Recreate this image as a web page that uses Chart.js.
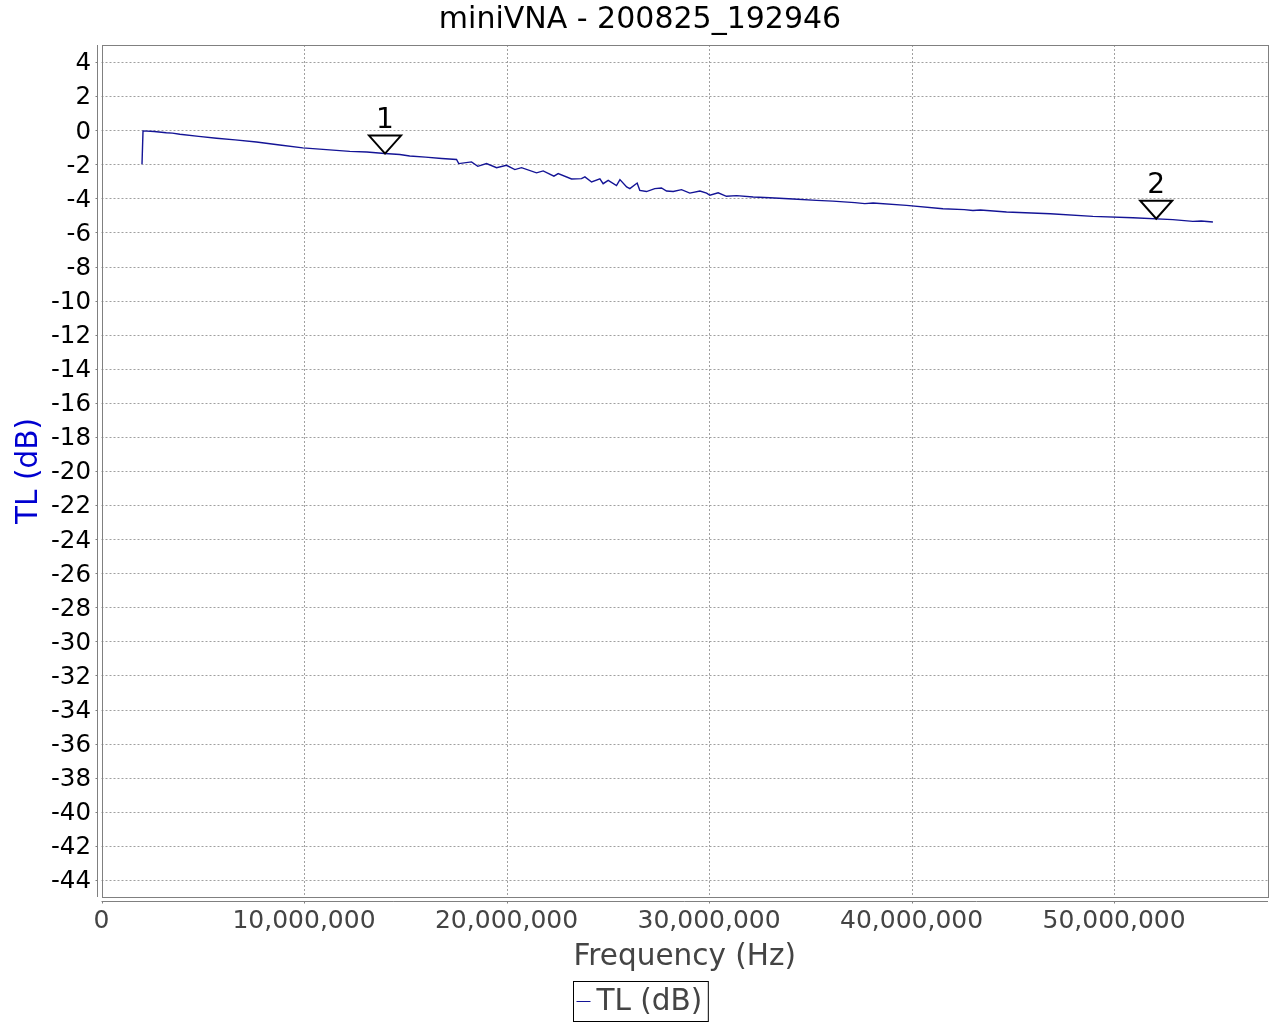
<!DOCTYPE html>
<html>
<head>
<meta charset="utf-8">
<title>miniVNA - 200825_192946</title>
<script src="https://cdn.jsdelivr.net/npm/chart.js@4.4.0/dist/chart.umd.min.js"></script>
<style>
    html, body { margin: 0; padding: 0; background: #fff; }
    canvas { display: block; }
</style>
</head>
<body>
<canvas id="graficoTL" width="1280" height="1024"></canvas>
<script>
// Datos (frecuencia en Hz, TL en dB)
const frecuencias = [
    2.00e6, 2.05e6, 2.6e6, 3.2e6, 3.5e6, 3.87e6, 4.8e6, 5.68e6, 6.6e6, 7.65e6,
    8.8e6, 9.94e6, 11.1e6, 12.26e6, 13.1e6, 13.99e6, 14.73e6, 15.22e6, 16.0e6, 16.8e6,
    17.53e6, 17.64e6, 18.27e6, 18.58e6, 19.01e6, 19.51e6, 20.0e6, 20.41e6, 20.74e6, 21.48e6,
    21.81e6, 22.34e6, 22.55e6, 23.21e6, 23.70e6, 23.87e6, 24.20e6, 24.61e6, 24.77e6, 25.02e6,
    25.43e6, 25.60e6, 25.93e6, 26.09e6, 26.45e6, 26.58e6, 26.91e6, 27.32e6, 27.65e6, 27.90e6,
    28.23e6, 28.64e6, 29.05e6, 29.55e6, 29.88e6, 30.04e6, 30.45e6, 30.86e6, 31.36e6, 32.18e6,
    33.0e6, 34.15e6, 35.31e6, 36.11e6, 37.2e6, 37.69e6, 38.1e6, 39.75e6, 41.55e6, 42.6e6,
    43.03e6, 43.4e6, 44.69e6, 46.85e6, 48.95e6, 50.93e6, 52.90e6, 53.89e6, 54.3e6, 54.88e6
];
const tlValores = [
    -2.00, -0.04, -0.08, -0.15, -0.17, -0.24, -0.36, -0.47, -0.57, -0.69,
    -0.87, -1.04, -1.14, -1.24, -1.28, -1.37, -1.43, -1.51, -1.58, -1.66,
    -1.72, -1.96, -1.86, -2.12, -1.96, -2.20, -2.06, -2.31, -2.20, -2.50,
    -2.39, -2.70, -2.55, -2.86, -2.84, -2.74, -3.04, -2.86, -3.14, -2.94,
    -3.25, -2.90, -3.33, -3.43, -3.10, -3.53, -3.60, -3.43, -3.39, -3.57,
    -3.60, -3.49, -3.69, -3.57, -3.69, -3.82, -3.67, -3.88, -3.84, -3.92,
    -3.96, -4.04, -4.12, -4.16, -4.25, -4.31, -4.27, -4.41, -4.61, -4.66,
    -4.71, -4.68, -4.80, -4.90, -5.06, -5.14, -5.25, -5.35, -5.33, -5.39
];

// Marcadores 1 y 2
const marcadorEtiquetas = ['1', '2'];
const marcadorFrecuencias = [14.0e6, 52.08e6];
const marcadorValores = [-1.37, -5.19];

// Ticks de los ejes
const ticksX = [0, 10e6, 20e6, 30e6, 40e6, 50e6];
const ticksY = [4, 2, 0, -2, -4, -6, -8, -10, -12, -14, -16, -18, -20, -22, -24, -26,
    -28, -30, -32, -34, -36, -38, -40, -42, -44];

const FUENTE = 'DejaVu Sans';
const GRIS = '#808080';
const COLOR_REJILLA = '#a0a0a0';
const COLOR_LINEA = 'rgb(20, 20, 150)';

// Rejilla punteada, marco, ejes separados, marcadores y leyenda al estilo JFreeChart
const pluginMiniVNA = {
    id: 'miniVNA',
    beforeDatasetsDraw(chart) {
        const ctx = chart.ctx;
        const area = chart.chartArea;
        const x = chart.scales.x;
        const y = chart.scales.y;
        ctx.save();
        ctx.strokeStyle = COLOR_REJILLA;
        ctx.lineWidth = 1;
        ctx.setLineDash([2, 2]);
        ctx.beginPath();
        ticksX.forEach(v => {
            const p = Math.round(x.getPixelForValue(v)) + 0.5;
            ctx.moveTo(p, area.top);
            ctx.lineTo(p, area.bottom);
        });
        ticksY.forEach(v => {
            const p = Math.round(y.getPixelForValue(v)) + 0.5;
            ctx.moveTo(area.left, p);
            ctx.lineTo(area.right, p);
        });
        ctx.stroke();
        ctx.restore();
    },
    afterDatasetsDraw(chart) {
        const ctx = chart.ctx;
        const x = chart.scales.x;
        const y = chart.scales.y;
        ctx.save();
        marcadorEtiquetas.forEach((etiqueta, i) => {
            const px = x.getPixelForValue(marcadorFrecuencias[i]);
            const py = y.getPixelForValue(marcadorValores[i]);
            ctx.beginPath();
            ctx.moveTo(px - 16, py - 18);
            ctx.lineTo(px + 16, py - 18);
            ctx.lineTo(px, py);
            ctx.closePath();
            ctx.fillStyle = '#fff';
            ctx.fill();
            ctx.lineWidth = 2;
            ctx.strokeStyle = '#000';
            ctx.stroke();
            ctx.fillStyle = '#000';
            ctx.font = '28px "' + FUENTE + '"';
            ctx.textAlign = 'center';
            ctx.textBaseline = 'alphabetic';
            ctx.fillText(etiqueta, px, py - 26);
        });
        ctx.restore();
    },
    afterDraw(chart) {
        const ctx = chart.ctx;
        const area = chart.chartArea;
        const x = chart.scales.x;
        const y = chart.scales.y;
        ctx.save();
        ctx.strokeStyle = GRIS;
        ctx.lineWidth = 1;
        // marco del area
        ctx.strokeRect(Math.round(area.left) + 0.5, Math.round(area.top) + 0.5,
            Math.round(area.right - area.left) - 1, Math.round(area.bottom - area.top));
        // eje X desplazado
        const ejeX = Math.round(area.bottom) + 4.5;
        ctx.beginPath();
        ctx.moveTo(area.left, ejeX);
        ctx.lineTo(area.right, ejeX);
        ticksX.forEach(v => {
            const p = Math.round(x.getPixelForValue(v)) + 0.5;
            ctx.moveTo(p, ejeX);
            ctx.lineTo(p, ejeX + 2);
        });
        // eje Y desplazado
        const ejeY = Math.round(area.left) - 4.5;
        ctx.moveTo(ejeY, area.top);
        ctx.lineTo(ejeY, area.bottom);
        ticksY.forEach(v => {
            const p = Math.round(y.getPixelForValue(v)) + 0.5;
            ctx.moveTo(ejeY, p);
            ctx.lineTo(ejeY - 2, p);
        });
        ctx.stroke();

        // leyenda
        const texto = chart.data.datasets[0].label;
        ctx.font = '29.5px "' + FUENTE + '"';
        const anchoTexto = ctx.measureText(texto).width;
        const anchoCaja = 4 + 14 + 6 + anchoTexto + 5;
        const izq = Math.round(chart.width / 2 - anchoCaja / 2) + 0.5;
        const arriba = 981.5;
        ctx.strokeStyle = '#000';
        ctx.strokeRect(izq, arriba, anchoCaja, 40);
        ctx.beginPath();
        ctx.strokeStyle = COLOR_LINEA;
        ctx.moveTo(izq + 3, arriba + 20);
        ctx.lineTo(izq + 17, arriba + 20);
        ctx.stroke();
        ctx.fillStyle = '#444';
        ctx.textAlign = 'left';
        ctx.textBaseline = 'middle';
        ctx.fillText(texto, izq + 23, arriba + 21);
        ctx.restore();
    }
};

const datos = {
    datasets: [{
        label: 'TL (dB)',
        data: frecuencias.map((f, i) => ({ x: f, y: tlValores[i] })),
        borderColor: COLOR_LINEA,
        backgroundColor: COLOR_LINEA,
        borderWidth: 1.4,
        pointRadius: 0,
        tension: 0,
        fill: false
    }]
};

const configuracion = {
    type: 'line',
    data: datos,
    options: {
        responsive: false,
        animation: false,
        devicePixelRatio: 1,
        layout: { padding: { left: 0, right: 0, top: 0, bottom: 49 } },
        plugins: {
            legend: { display: false },
            tooltip: { enabled: false },
            title: {
                display: true,
                text: 'miniVNA - 200825_192946',
                color: '#000',
                font: { family: FUENTE, size: 30, weight: 'normal' },
                padding: { top: 2, bottom: 7 }
            }
        },
        scales: {
            x: {
                type: 'linear',
                min: 0,
                max: 57.6e6,
                afterBuildTicks: s => { s.ticks = ticksX.map(v => ({ value: v })); },
                afterFit: s => { s.height = 78; },
                border: { display: false },
                grid: { display: false, drawTicks: false },
                ticks: {
                    color: '#444',
                    font: { family: FUENTE, size: 25 },
                    padding: 9,
                    maxRotation: 0,
                    autoSkip: false,
                    callback: v => v.toLocaleString('en-US')
                },
                title: {
                    display: true,
                    text: 'Frequency (Hz)',
                    color: '#444',
                    font: { family: FUENTE, size: 29.5 },
                    padding: { top: 0, bottom: 0 }
                }
            },
            y: {
                min: -45,
                max: 5,
                afterBuildTicks: s => { s.ticks = ticksY.map(v => ({ value: v })); },
                afterFit: s => { s.width = 101.5; },
                border: { display: false },
                grid: { display: false, drawTicks: false },
                ticks: {
                    color: '#000',
                    font: { family: FUENTE, size: 24.5 },
                    padding: 10.5,
                    labelOffset: 2,
                    autoSkip: false
                },
                title: {
                    display: true,
                    text: 'TL (dB)',
                    color: '#0000d0',
                    font: { family: FUENTE, size: 29.5 },
                    padding: { top: 12, bottom: 0 }
                }
            },
            // margen derecho vacio (como en JFreeChart)
            yDer: {
                position: 'right',
                afterFit: s => { s.width = 12; },
                border: { display: false },
                grid: { display: false, drawTicks: false },
                ticks: { display: false }
            }
        }
    },
    plugins: [pluginMiniVNA]
};

const ctx = document.getElementById('graficoTL').getContext('2d');
new Chart(ctx, configuracion);
</script>
</body>
</html>
